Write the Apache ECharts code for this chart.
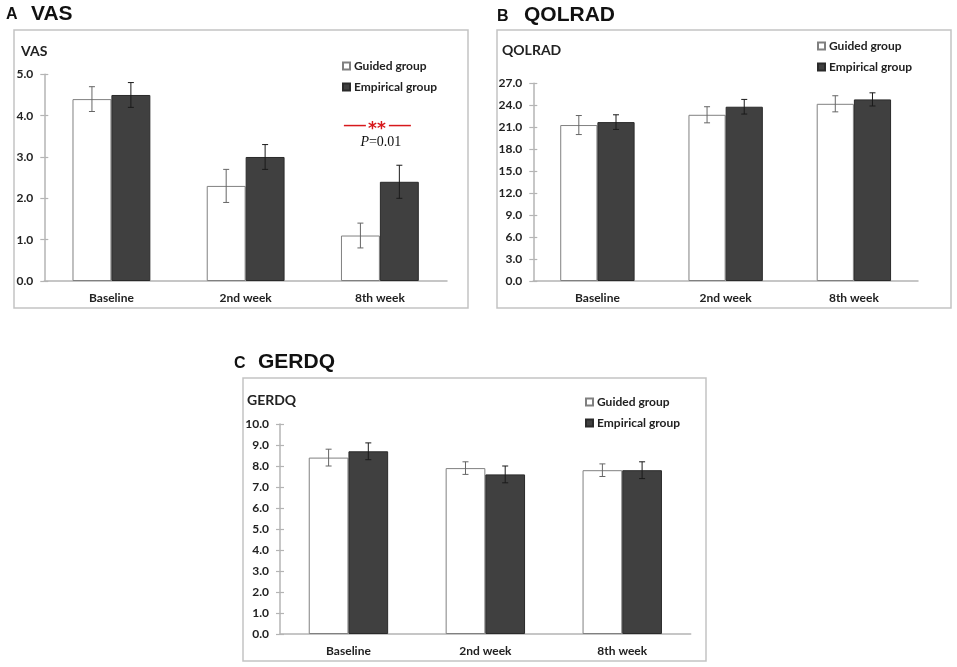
<!DOCTYPE html>
<html><head><meta charset="utf-8">
<script src="https://cdn.jsdelivr.net/npm/echarts@6/dist/echarts.min.js"></script>
<style>html,body{margin:0;padding:0;background:#fff}#c{width:957px;height:667px}</style>
</head><body><div id="c"></div>
<script>
const categories = ['Baseline', '2nd week', '8th week'];
const groupNames = ['Guided group', 'Empirical group'];

const vasGuided = [4.4, 2.3, 1.1];
const vasGuidedErr = [0.3, 0.4, 0.3];
const vasEmpirical = [4.5, 3.0, 2.4];
const vasEmpiricalErr = [0.3, 0.3, 0.4];

const qolGuided = [21.3, 22.7, 24.2];
const qolGuidedErr = [1.3, 1.1, 1.1];
const qolEmpirical = [21.7, 23.8, 24.8];
const qolEmpiricalErr = [1.0, 1.0, 0.9];

const gerdGuided = [8.4, 7.9, 7.8];
const gerdGuidedErr = [0.4, 0.3, 0.3];
const gerdEmpirical = [8.7, 7.6, 7.8];
const gerdEmpiricalErr = [0.4, 0.4, 0.4];

const vasTicks = [0, 1, 2, 3, 4, 5];
const qolTicks = [0, 3, 6, 9, 12, 15, 18, 21, 24, 27];
const gerdTicks = [0, 1, 2, 3, 4, 5, 6, 7, 8, 9, 10];

// significance annotation (VAS, 8th week)
const vasSigCategory = 2;
const vasSigLineValue = 3.76;
const vasSigTextValue = 3.35;
const vasSigLabel = 'P=0.01';

const FONT = 'Lato';
const GAP = 0.42;
const BAR_FRAC = (1 - GAP) / 2;

const chart = echarts.init(document.getElementById('c'));

const grids = [
  {left: 44.3, top: 74.3, width: 402.7, height: 206.7},
  {left: 533.3, top: 83.3, width: 384.7, height: 197.7},
  {left: 280, top: 424, width: 410.7, height: 210}
];
const tickSets = [vasTicks, qolTicks, gerdTicks];
const panels = [
  [vasGuided, vasGuidedErr, vasEmpirical, vasEmpiricalErr],
  [qolGuided, qolGuidedErr, qolEmpirical, qolEmpiricalErr],
  [gerdGuided, gerdGuidedErr, gerdEmpirical, gerdEmpiricalErr]
];

const xAxis = [], yAxis = [], series = [];
grids.forEach((g, i) => {
  const ticks = tickSets[i];
  xAxis.push({
    type: 'category', gridIndex: i, data: categories,
    axisLine: {lineStyle: {color: '#b4b4b4', width: 1.5}},
    axisTick: {show: false},
    axisLabel: {color: '#222', fontFamily: FONT, fontWeight: 'bold', fontSize: 12, margin: 11}
  });
  const yBase = {
    type: 'value', gridIndex: i, min: ticks[0], max: ticks[ticks.length - 1],
    interval: ticks[1] - ticks[0], splitLine: {show: false}, position: 'left'
  };
  yAxis.push(Object.assign({}, yBase, {
    axisLine: {show: true, lineStyle: {color: '#b4b4b4', width: 1.5}},
    axisTick: {show: true, length: 4, lineStyle: {color: '#b4b4b4', width: 1.2}},
    axisLabel: {color: '#222', fontFamily: FONT, fontWeight: 'bold', fontSize: 12, margin: 11,
      formatter: v => v.toFixed(1)}
  }));
  yAxis.push(Object.assign({}, yBase, {
    axisLine: {show: false},
    axisTick: {show: true, inside: true, length: 4, lineStyle: {color: '#b4b4b4', width: 1.2}},
    axisLabel: {show: false}
  }));
  const [gv, ge, ev, ee] = panels[i];
  const yIdx = i * 2;
  series.push({
    name: groupNames[0], type: 'bar', xAxisIndex: i, yAxisIndex: yIdx, data: gv,
    barGap: '0%', barCategoryGap: (GAP * 100) + '%',
    itemStyle: {color: '#ffffff', borderColor: '#808080', borderWidth: 1}
  });
  series.push({
    name: groupNames[1], type: 'bar', xAxisIndex: i, yAxisIndex: yIdx, data: ev,
    barGap: '0%', barCategoryGap: (GAP * 100) + '%',
    itemStyle: {color: '#404040', borderColor: '#2a2a2a', borderWidth: 1}
  });
  [[gv, ge, -1, '#666'], [ev, ee, 1, '#1a1a1a']].forEach(([vals, errs, side, col]) => {
    series.push({
      type: 'custom', xAxisIndex: i, yAxisIndex: yIdx, z: 5, silent: true,
      data: vals.map((v, k) => [k, v - errs[k], v + errs[k]]),
      renderItem: function (params, api) {
        const c = api.value(0);
        const lo = api.coord([c, api.value(1)]);
        const hi = api.coord([c, api.value(2)]);
        const band = api.size([1, 0])[0];
        const x = lo[0] + side * band * BAR_FRAC / 2;
        const st = {stroke: col, lineWidth: 1};
        return {type: 'group', children: [
          {type: 'line', shape: {x1: x, y1: lo[1], x2: x, y2: hi[1]}, style: st},
          {type: 'line', shape: {x1: x - 3, y1: lo[1], x2: x + 3, y2: lo[1]}, style: st},
          {type: 'line', shape: {x1: x - 3, y1: hi[1], x2: x + 3, y2: hi[1]}, style: st}
        ]};
      }
    });
  });
});

// significance annotation
series.push({
  type: 'custom', xAxisIndex: 0, yAxisIndex: 0, z: 6, silent: true,
  data: [[vasSigCategory, vasSigLineValue, vasSigTextValue]],
  renderItem: function (params, api) {
    const p1 = api.coord([api.value(0), api.value(1)]);
    const p2 = api.coord([api.value(0), api.value(2)]);
    const cx = p1[0] - 3;
    const red = '#d7191c';
    return {type: 'group', children: [
      {type: 'line', shape: {x1: cx - 33, y1: p1[1], x2: cx - 11, y2: p1[1]}, style: {stroke: red, lineWidth: 1.5}},
      {type: 'line', shape: {x1: cx + 12, y1: p1[1], x2: cx + 34, y2: p1[1]}, style: {stroke: red, lineWidth: 1.5}},
      {type: 'text', x: cx, y: p1[1] + 4, style: {text: '**', fill: red, font: 'bold 17px "DejaVu Sans"', align: 'center', verticalAlign: 'middle'}},
      {type: 'text', x: p2[0] + 1, y: p2[1], style: {
        text: '{i|P}{n|' + vasSigLabel.slice(1) + '}', align: 'center', verticalAlign: 'middle',
        rich: {i: {fontFamily: 'Liberation Serif', fontStyle: 'italic', fontSize: 14, fill: '#111'},
               n: {fontFamily: 'Liberation Serif', fontSize: 14, fill: '#111'}}
      }}
    ]};
  }
});

const legendPos = [[337, 55], [812, 35], [580, 391]];
const legend = legendPos.map(([l, t]) => ({
  data: groupNames, orient: 'vertical', left: l, top: t, itemGap: 9,
  icon: 'rect', itemWidth: 7, itemHeight: 7, selectedMode: false,
  textStyle: {fontFamily: FONT, fontWeight: 'bold', fontSize: 12, color: '#222', padding: [0, 0, 0, -1]}
}));

const boxStyle = {fill: 'none', stroke: '#c3c3c3', lineWidth: 1.5};
const graphic = [
  {type: 'rect', shape: {x: 14, y: 30, width: 454, height: 278}, style: boxStyle, z: -1},
  {type: 'rect', shape: {x: 497, y: 30, width: 454, height: 278}, style: boxStyle, z: -1},
  {type: 'rect', shape: {x: 243, y: 378, width: 463, height: 283}, style: boxStyle, z: -1},
  {type: 'text', left: 6, top: 7, style: {text: 'A', font: 'bold 16px "Liberation Sans"', fill: '#111'}},
  {type: 'text', left: 31, top: 4, style: {text: 'VAS', font: 'bold 21px "Liberation Sans"', fill: '#111'}},
  {type: 'text', left: 497, top: 9, style: {text: 'B', font: 'bold 16px "Liberation Sans"', fill: '#111'}},
  {type: 'text', left: 524, top: 5, style: {text: 'QOLRAD', font: 'bold 21px "Liberation Sans"', fill: '#111'}},
  {type: 'text', left: 234, top: 356, style: {text: 'C', font: 'bold 16px "Liberation Sans"', fill: '#111'}},
  {type: 'text', left: 258, top: 352, style: {text: 'GERDQ', font: 'bold 21px "Liberation Sans"', fill: '#111'}},
  {type: 'text', left: 21, top: 44, style: {text: 'VAS', font: 'bold 14px Lato', fill: '#222'}},
  {type: 'text', left: 502, top: 43, style: {text: 'QOLRAD', font: 'bold 14px Lato', fill: '#222'}},
  {type: 'text', left: 247, top: 393, style: {text: 'GERDQ', font: 'bold 14px Lato', fill: '#222'}}
];

chart.setOption({
  animation: false,
  grid: grids,
  xAxis, yAxis, series, legend, graphic
});
</script></body></html>
